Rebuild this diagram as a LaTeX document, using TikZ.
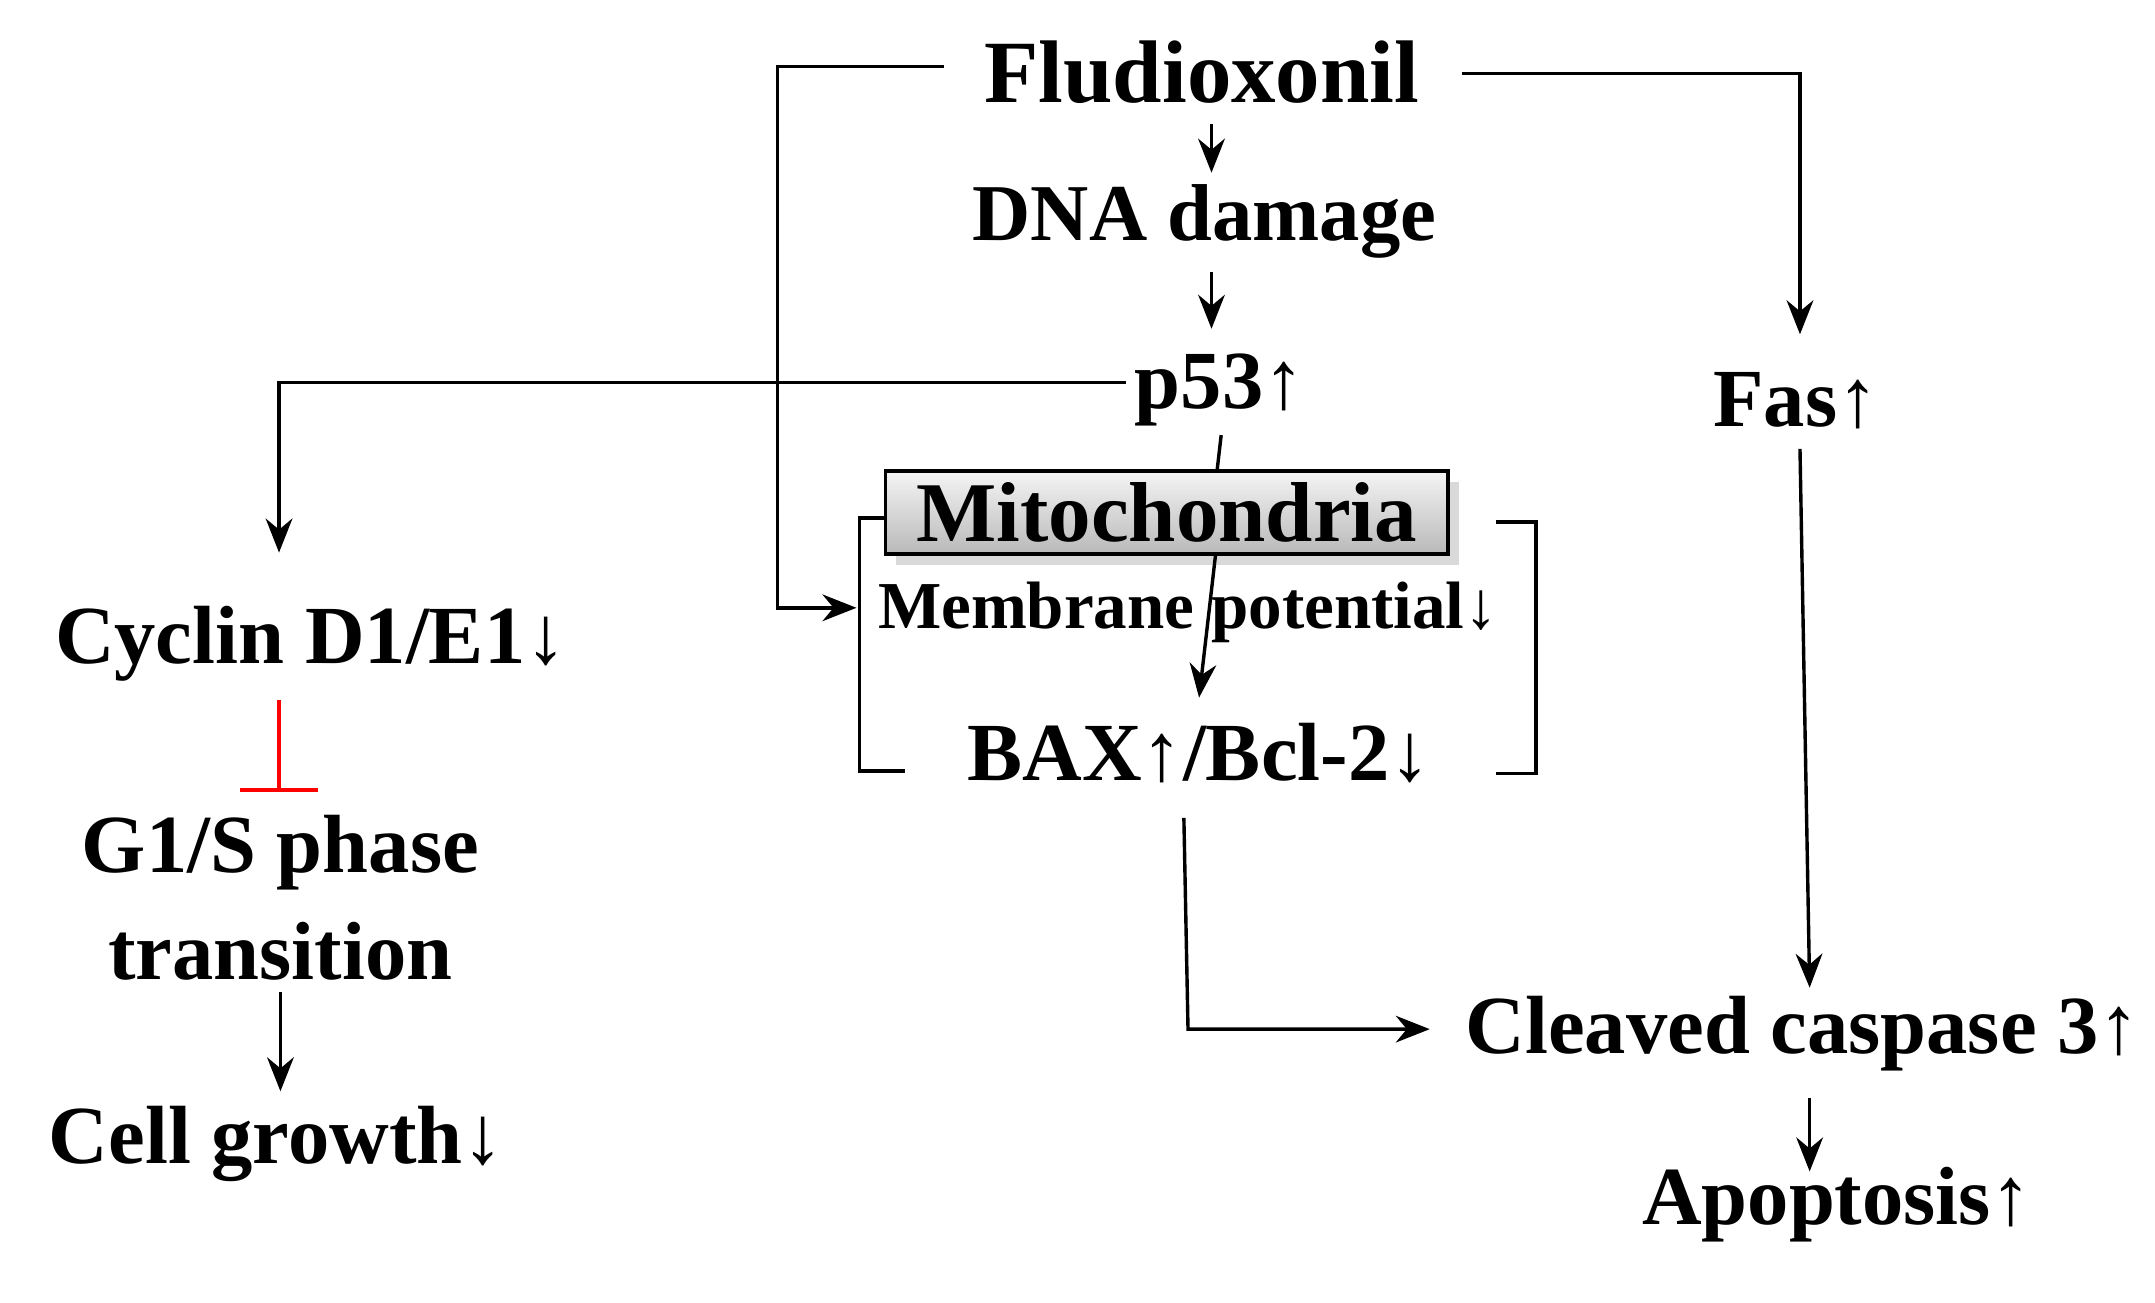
\documentclass[tikz,border=0pt]{standalone}
\usepackage{fontspec}
\setmainfont{Liberation Serif}
\usetikzlibrary{arrows.meta,shadows}
\begin{document}
\begin{tikzpicture}[x=0.01cm,y=-0.01cm,
  lbl/.style={font=\fontsize{17}{20}\selectfont\bfseries,inner sep=0pt,align=center},
  ln/.style={line width=0.7pt},
  arr/.style={ln,-{Stealth[length=7pt,width=5.5pt]}},
  inh/.style={line width=0.7pt,red,-{Bar[width=16pt]}}]
\useasboundingbox (0,0) rectangle (1560,943);
\node[lbl,font=\fontsize{18.3}{22}\selectfont\bfseries] (flu) at (870,52) {Fludioxonil};
\node[lbl,font=\fontsize{16.6}{20}\selectfont\bfseries] (dna) at (872,160) {DNA damage};
\node[lbl] (p53) at (883,282) {p53↑};
\node[lbl] (fas) at (1300,290) {Fas↑};
\node[lbl] (mem) at (860,443) [font=\fontsize{13.8}{16}\selectfont\bfseries] {Membrane potential↓};
\node[lbl] (bax) at (868,545) {BAX↑/Bcl-2↓};
\node[lbl] (cas) at (1305,748) {Cleaved caspase 3↑};
\node[lbl] (apo) at (1330,872) {Apoptosis↑};
\node[lbl] (cyc) at (225,466) {Cyclin D1/E1↓};
\node[lbl,align=center] (g1s) at (203,650) {G1/S phase\\[2pt] transition};
\node[lbl] (cell) at (200,828) {Cell growth↓};
\coordinate (a1) at (877,90); \coordinate (a2) at (877,125);
\coordinate (b1) at (877,197); \coordinate (b2) at (877,238);
\draw[arr] (a1) -- (a2);
\draw[arr] (b1) -- (b2);
\coordinate (pl) at (815,277);
\coordinate (cy) at (202,400);
\draw[arr] (pl) -| (cy);
\coordinate (fl) at (683,48); \coordinate (mm) at (620,440);
\draw[arr] (fl) -- (563,48) |- (mm);
\coordinate (fr) at (1058,53); \coordinate (fa) at (1303,242);
\draw[arr] (fr) -| (fa);
\draw[arr] (1303,325) -- (1310,715);
\draw[ln] (641,375) -- (622,375) -- (622,558) -- (655,558);
\draw[ln] (1083,378) -- (1112,378) -- (1112,560) -- (1083,560);
\node[draw,line width=0.7pt,top color=gray!8,bottom color=gray!55,drop shadow={opacity=0.3},
  minimum width=4.07cm,minimum height=0.6cm,inner sep=0pt,
  font=\fontsize{17.5}{20}\selectfont\bfseries] (mito) at (844.5,371) {Mitochondria};
\draw[ln] (884,315) -- (881,341);
\draw[arr] (880,401) -- (868,505);
\draw[arr] (857,592) -- (860,745) -- (1035,745);
\draw[arr] (1310,795) -- (1310,848);
\draw[inh] (202,507) -- (202,573);
\draw[arr] (203,718) -- (203,790);
\end{tikzpicture}
\end{document}
